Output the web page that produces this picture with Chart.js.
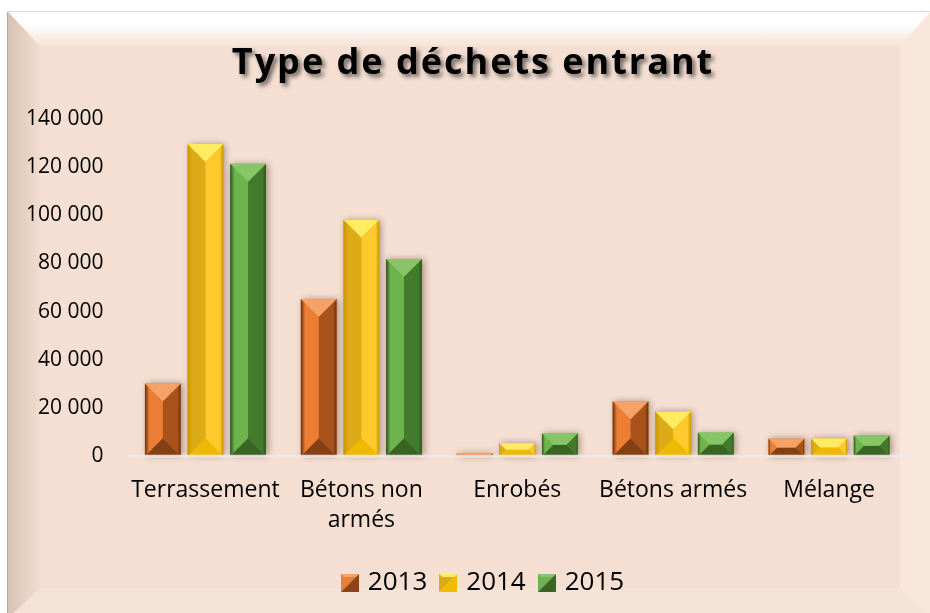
<!DOCTYPE html>
<html lang="fr">
<head>
  <meta charset="UTF-8" />
  <title>Type de déchets entrant</title>
  <script src="https://cdn.jsdelivr.net/npm/chart.js"></script>
  <style>
    html, body {
      margin: 0;
      width: 930px;
      height: 613px;
      overflow: hidden;
      background: #fff;
      font-family: "Open Sans", sans-serif;
    }

    #frame {
      position: absolute;
      left: 8px;
      top: 12px;
      width: 922px;
      height: 606px;
      box-sizing: border-box;
      background: #f4dfd2;
      border-style: solid;
      border-width: 34px 30px 30px 32px;
      border-color: #fcf1ea #f9e7dc #f6e3d7 #ecd5c6;
      box-shadow: -1px 0 0 #b9a79c, 0 -1px 0 #e4d8d0;
    }

    #frame::before {
      content: "";
      position: absolute;
      top: -34px;
      left: -32px;
      right: -30px;
      height: 34px;
      clip-path: polygon(0 0, 100% 0, calc(100% - 30px) 100%, 32px 100%);
      background: linear-gradient(#ffffff 35%, #f6e3d7);
    }

    #frame::after {
      content: "";
      position: absolute;
      top: -34px;
      left: -32px;
      bottom: -30px;
      width: 32px;
      clip-path: polygon(0 0, 100% 34px, 100% calc(100% - 30px), 0 100%);
      background: linear-gradient(to right, #d9c2b3, #f1ddd0);
    }

    #title {
      position: absolute;
      left: 8px;
      top: 36px;
      width: 930px;
      text-align: center;
      font-weight: 700;
      font-size: 36px;
      letter-spacing: 2px;
      color: #000;
      text-shadow: 3px 3px 4px rgba(0, 0, 0, 0.55);
      z-index: 2;
    }

    .wrap {
      position: absolute;
      left: 0;
      top: 0;
      width: 930px;
      height: 613px;
      z-index: 1;
    }
  </style>
</head>
<body>

<div id="frame"></div>
<div id="title">Type de déchets entrant</div>
<div class="wrap"><canvas id="chart"></canvas></div>

<script>
  // données
  const categories = ['Terrassement', ['Bétons non', 'armés'], 'Enrobés', 'Bétons armés', 'Mélange'];
  const years = ['2013', '2014', '2015'];
  const v2013 = [30200, 65300, 1200, 22800, 7300];
  const v2014 = [129600, 98200, 5400, 18600, 7300];
  const v2015 = [121400, 81900, 9500, 9800, 8600];
  const yTicks = [0, 20000, 40000, 60000, 80000, 100000, 120000, 140000];

  const FONT = '"Open Sans", sans-serif';

  // teintes des facettes (biseau)
  const shades = [
    { top: '#f6a267', left: '#ec7d35', right: '#a9521c', bottom: '#853f15', edge: '#6a300f', icon: '#8f4418' },
    { top: '#ffec62', left: '#ddab18', right: '#fdc92c', bottom: '#f0b900', edge: '#c99500', icon: '#f2bd00' },
    { top: '#86c666', left: '#6cb44b', right: '#437a2b', bottom: '#3a6424', edge: '#2f5220', icon: '#3a6424' }
  ];

  function poly(ctx, pts, fill) {
    ctx.beginPath();
    ctx.moveTo(pts[0][0], pts[0][1]);
    for (let i = 1; i < pts.length; i++) ctx.lineTo(pts[i][0], pts[i][1]);
    ctx.closePath();
    ctx.fillStyle = fill;
    ctx.fill();
  }

  function drawBevel(ctx, x0, y0, x1, y1, c) {
    const w = x1 - x0, h = y1 - y0;
    if (w <= 0 || h <= 0) return;
    const b = Math.min(w, h) / 2;
    ctx.save();
    ctx.shadowColor = 'rgba(60, 30, 10, 0.45)';
    ctx.shadowBlur = 7;
    ctx.shadowOffsetX = 2;
    ctx.fillStyle = c.left;
    ctx.fillRect(x0, y0, w, h);
    ctx.restore();

    const gl = ctx.createLinearGradient(x0, 0, x0 + b, 0);
    gl.addColorStop(0, c.edge);
    gl.addColorStop(0.25, c.left);
    gl.addColorStop(1, c.left);
    const gr = ctx.createLinearGradient(x1 - b, 0, x1, 0);
    gr.addColorStop(0, c.right);
    gr.addColorStop(0.8, c.right);
    gr.addColorStop(1, c.edge);

    poly(ctx, [[x0, y0], [x0 + b, y0 + b], [x0 + b, y1 - b], [x0, y1]], gl);
    poly(ctx, [[x1, y0], [x1 - b, y0 + b], [x1 - b, y1 - b], [x1, y1]], gr);
    poly(ctx, [[x0, y1], [x0 + b, y1 - b], [x1 - b, y1 - b], [x1, y1]], c.bottom);
    poly(ctx, [[x0, y0], [x1, y0], [x1 - b, y0 + b], [x0 + b, y0 + b]], c.top);
  }

  // petits carrés de la légende
  const legendIcons = shades.map(c => {
    const cv = document.createElement('canvas');
    cv.width = 18;
    cv.height = 18;
    const g = cv.getContext('2d');
    poly(g, [[0, 0], [18, 0], [0, 18]], c.left);
    poly(g, [[18, 0], [18, 18], [0, 18]], c.icon);
    poly(g, [[0, 0], [18, 0], [15, 3], [3, 3]], c.top);
    return cv;
  });

  const bevelPlugin = {
    id: 'bevel',
    afterLayout(chart) {
      // la légende est un peu décalée vers la droite dans l'original
      chart.legend.left += 30;
      chart.legend.right += 30;
    },
    afterDatasetsDraw(chart) {
      const ctx = chart.ctx;
      chart.data.datasets.forEach((ds, i) => {
        const meta = chart.getDatasetMeta(i);
        if (meta.hidden) return;
        meta.data.forEach(bar => {
          const p = bar.getProps(['x', 'y', 'base', 'width'], true);
          drawBevel(ctx, p.x - p.width / 2, Math.min(p.y, p.base),
            p.x + p.width / 2, Math.max(p.y, p.base), shades[i]);
        });
      });
      // ligne de base claire par-dessus les barres
      const y0 = chart.scales.y.getPixelForValue(0);
      ctx.save();
      ctx.strokeStyle = 'rgba(238, 232, 228, 0.9)';
      ctx.lineWidth = 3;
      ctx.beginPath();
      ctx.moveTo(chart.chartArea.left, y0);
      ctx.lineTo(chart.chartArea.right, y0);
      ctx.stroke();
      ctx.restore();
    }
  };

  function fmt(v) {
    return String(v).replace(/\B(?=(\d{3})+(?!\d))/g, ' ');
  }

  const series = [v2013, v2014, v2015];

  new Chart(document.getElementById('chart'), {
    type: 'bar',
    data: {
      labels: categories,
      datasets: years.map((y, i) => ({
        label: y,
        data: series[i],
        backgroundColor: 'rgba(0,0,0,0)',
        borderWidth: 0,
        barPercentage: 0.84,
        categoryPercentage: 0.82
      }))
    },
    options: {
      responsive: true,
      maintainAspectRatio: false,
      animation: false,
      layout: { padding: { top: 119, right: 23, bottom: 7, left: 2 } },
      plugins: {
        legend: {
          position: 'bottom',
          labels: {
            usePointStyle: true,
            pointStyleWidth: 10,
            color: '#000',
            padding: 16,
            font: { family: FONT, size: 26 },
            generateLabels(chart) {
              const items = Chart.defaults.plugins.legend.labels.generateLabels(chart);
              items.forEach((it, i) => { it.pointStyle = legendIcons[i]; });
              return items;
            }
          }
        },
        tooltip: { enabled: false }
      },
      scales: {
        x: {
          grid: { display: false, drawTicks: false },
          border: { display: false },
          ticks: {
            color: '#000',
            padding: 19,
            maxRotation: 0,
            autoSkip: false,
            font: { family: FONT, size: 23, lineHeight: 1.3 }
          }
        },
        y: {
          min: 0,
          max: 140000,
          afterBuildTicks(scale) {
            scale.ticks = yTicks.map(v => ({ value: v }));
          },
          grid: { display: false, drawTicks: false },
          border: { display: false },
          ticks: {
            color: '#000',
            padding: 24,
            font: { family: FONT, size: 21 },
            callback: fmt
          }
        }
      }
    },
    plugins: [bevelPlugin]
  });
</script>

</body>
</html>
